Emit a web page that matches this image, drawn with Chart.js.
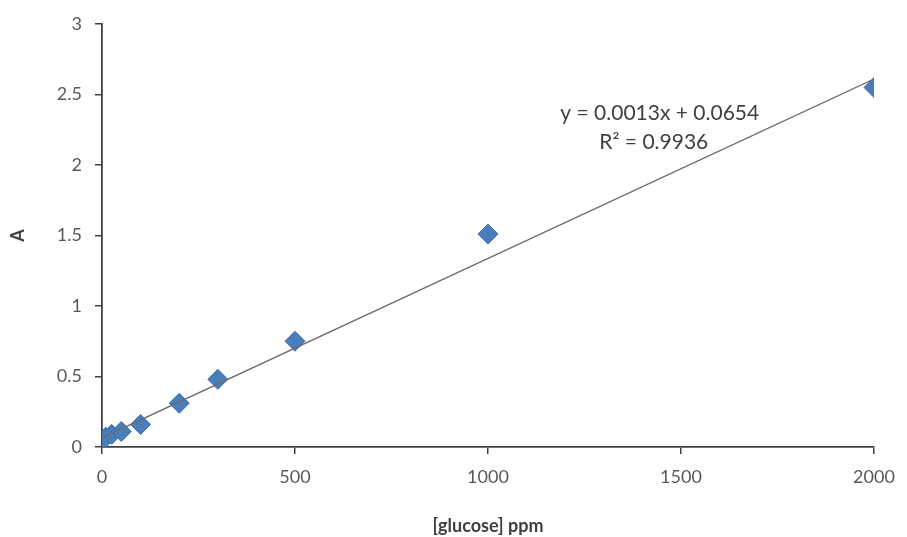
<!DOCTYPE html>
<html>
<head>
<meta charset="utf-8">
<script src="https://cdn.jsdelivr.net/npm/chart.js"></script>
<style>
  html, body { margin: 0; padding: 0; background: #fff; }
  #wrap { width: 907px; height: 537px; }
</style>
</head>
<body>
<div id="wrap"><canvas id="chart"></canvas></div>
<script>
// glucose standard curve
const concPpm = [0, 10, 25, 50, 100, 200, 300, 500, 1000, 2000];
const absorbance = [0.05, 0.07, 0.09, 0.11, 0.16, 0.31, 0.48, 0.75, 1.51, 2.55];

// linear trendline ends
const trendX = [0, 2000];
const trendY = [0.065, 2.61];
const equationLines = ['y = 0.0013x + 0.0654', 'R\u00B2 = 0.9936'];

const xTicks = [0, 500, 1000, 1500, 2000];
const yTicks = [0, 0.5, 1, 1.5, 2, 2.5, 3];

const FONT = 'Lato, "Open Sans", sans-serif';
const axisColor = '#404040';

// draws the trendline label at a data position
const equationLabel = {
    id: 'equationLabel',
    afterDatasetsDraw(chart) {
        const { ctx, scales } = chart;
        const cx = scales.x.getPixelForValue(1445);
        const cy = scales.y.getPixelForValue(2.37);
        ctx.save();
        ctx.font = '21px ' + FONT;
        ctx.fillStyle = '#404040';
        ctx.textAlign = 'center';
        ctx.textBaseline = 'middle';
        ctx.fillText(equationLines[0], cx, cy);
        ctx.fillText(equationLines[1], cx - 6, cy + 29);
        ctx.restore();
    }
};

const ctx = document.getElementById('chart').getContext('2d');
new Chart(ctx, {
    type: 'scatter',
    data: {
        datasets: [{
            label: 'A',
            data: concPpm.map((x, i) => ({ x: x, y: absorbance[i] })),
            pointStyle: 'rectRot',
            pointRadius: 10,
            pointHoverRadius: 10,
            backgroundColor: '#4a7ebb',
            borderColor: '#3d6fae',
            borderWidth: 1,
            order: 1
        }, {
            label: 'Linear (A)',
            type: 'line',
            data: trendX.map((x, i) => ({ x: x, y: trendY[i] })),
            borderColor: '#6b6b6b',
            borderWidth: 1.3,
            pointRadius: 0,
            fill: false,
            order: 0
        }]
    },
    options: {
        responsive: true,
        maintainAspectRatio: false,
        animation: false,
        layout: { padding: { top: 24, right: 33, left: 0, bottom: 0 } },
        plugins: {
            legend: { display: false },
            tooltip: { enabled: false }
        },
        scales: {
            x: {
                type: 'linear',
                min: 0,
                max: 2000,
                afterBuildTicks: axis => { axis.ticks = xTicks.map(v => ({ value: v })); },
                afterFit: axis => { axis.height = 90; },
                ticks: {
                    color: '#595959', font: { family: FONT, size: 18 }, padding: 12,
                    callback: v => String(v)
                },
                grid: {
                    display: true, drawOnChartArea: false, drawTicks: true, tickLength: 7,
                    color: axisColor, tickColor: axisColor, tickWidth: 1.5, lineWidth: 1.5
                },
                border: { display: true, color: axisColor, width: 1.8 },
                title: {
                    display: true,
                    text: '[glucose] ppm',
                    color: '#404040',
                    font: { family: FONT, size: 18, weight: 'bold' },
                    padding: { top: 10, bottom: 0 }
                }
            },
            y: {
                type: 'linear',
                min: 0,
                max: 3,
                afterBuildTicks: axis => { axis.ticks = yTicks.map(v => ({ value: v })); },
                afterFit: axis => { axis.width = 102; },
                ticks: {
                    color: '#595959', font: { family: FONT, size: 18 }, padding: 13,
                    callback: v => String(v)
                },
                grid: {
                    display: true, drawOnChartArea: false, drawTicks: true, tickLength: 7,
                    color: axisColor, tickColor: axisColor, tickWidth: 1.5, lineWidth: 1.5
                },
                border: { display: true, color: axisColor, width: 1.8 },
                title: {
                    display: true,
                    text: 'A',
                    color: '#404040',
                    font: { family: FONT, size: 18, weight: 'bold' },
                    padding: { top: 7, bottom: 0 }
                }
            }
        }
    },
    plugins: [equationLabel]
});
</script>
</body>
</html>
